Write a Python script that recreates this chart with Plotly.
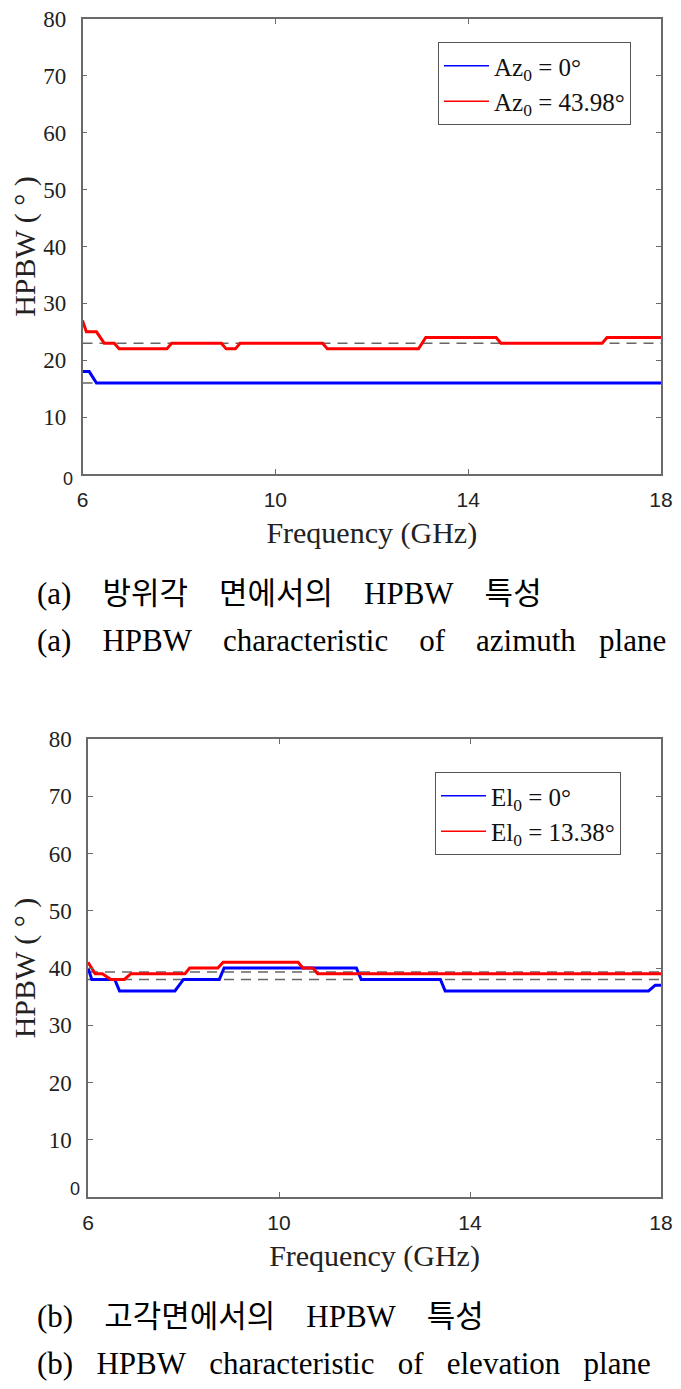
import plotly.graph_objects as go

# (a) azimuth plane
az_freq_0 = [6.0, 6.14, 6.29, 18.0]
az_hpbw_0 = [18, 18, 16, 16]
az_freq_1 = [6.0, 6.08, 6.29, 6.45, 6.66, 6.76, 7.75, 7.85, 8.88, 8.98, 9.17, 9.27,
             10.98, 11.08, 12.97, 13.12, 14.58, 14.68, 16.78, 16.88, 18.0]
az_hpbw_1 = [27, 25, 25, 23, 23, 22, 22, 23, 23, 22, 22, 23,
             23, 22, 22, 24, 24, 23, 23, 24, 24]
az_ref = [23, 16]

# (b) elevation plane
el_freq_0 = [6.0, 6.08, 6.56, 6.66, 7.82, 8.0, 8.75, 8.85, 11.62, 11.72, 13.38, 13.48,
             17.74, 17.88, 18.0]
el_hpbw_0 = [40, 38, 38, 36, 36, 38, 38, 40, 40, 38, 38, 36, 36, 37, 37]
el_freq_1 = [6.0, 6.15, 6.3, 6.48, 6.76, 6.9, 8.03, 8.13, 8.72, 8.83, 10.4, 10.5,
             10.71, 10.81, 18.0]
el_hpbw_1 = [41, 39, 39, 38, 38, 39, 39, 40, 40, 41, 41, 40, 40, 39, 39]
el_ref = [39.3, 38]

x_range = [6, 18]
x_ticks = [6, 10, 14, 18]
y_ticks = [0, 10, 20, 30, 40, 50, 60, 70, 80]

az_names = ["Az<sub>0</sub> = 0°", "Az<sub>0</sub> = 43.98°"]
el_names = ["El<sub>0</sub> = 0°", "El<sub>0</sub> = 13.38°"]

SERIF = "Liberation Serif, Times New Roman, serif"
SANS = "Liberation Sans, Arial, sans-serif"
CAP_FONT = "Liberation Serif, Noto Sans CJK KR, serif"
BLUE = "#0000ff"
RED = "#ff0000"
NB = "\u00a0"

# the page puts the figure 8 px in from the window corner
W, H, OFF = 665, 1373, 8


def px(x, y):
    return (x - OFF) / W, 1 - (y - OFF) / H


fig = go.Figure()


def add_panel(xa, ya, legend, f0, h0, f1, h1, refs, names):
    for v in refs:
        fig.add_trace(go.Scatter(x=x_range, y=[v, v], mode="lines", xaxis=xa, yaxis=ya,
                                 line=dict(color="#666666", width=1.5, dash="10px,7px"),
                                 showlegend=False, hoverinfo="skip"))
    fig.add_trace(go.Scatter(x=f0, y=h0, mode="lines", xaxis=xa, yaxis=ya,
                             line=dict(color=BLUE, width=3), showlegend=False))
    fig.add_trace(go.Scatter(x=f1, y=h1, mode="lines", xaxis=xa, yaxis=ya,
                             line=dict(color=RED, width=3), showlegend=False))
    # thin lines for the legend only
    for name, col in zip(names, [BLUE, RED]):
        fig.add_trace(go.Scatter(x=[None], y=[None], mode="lines", xaxis=xa, yaxis=ya,
                                 name=name, legend=legend,
                                 line=dict(color=col, width=1.3)))


add_panel("x", "y", "legend", az_freq_0, az_hpbw_0, az_freq_1, az_hpbw_1, az_ref, az_names)
add_panel("x2", "y2", "legend2", el_freq_0, el_hpbw_0, el_freq_1, el_hpbw_1, el_ref, el_names)

xaxis_style = dict(range=x_range, tickvals=x_ticks, showgrid=False, zeroline=False,
                   automargin=False, ticklabeloverflow="allow",
                   showline=True, linecolor="#6a6a6a", linewidth=1.5, mirror="allticks",
                   ticks="inside", ticklen=5, tickcolor="#6a6a6a",
                   tickfont=dict(family=SANS, size=21, color="#222"),
                   ticklabelstandoff=6,
                   title=dict(text="Frequency (GHz)", standoff=12,
                              font=dict(family=SERIF, size=30, color="#222")))
yaxis_style = dict(range=[0, 80], tickvals=y_ticks,
                   ticktext=[""] + [str(v) for v in y_ticks[1:]],
                   showgrid=False, zeroline=False, automargin=False,
                   ticklabeloverflow="allow",
                   showline=True, linecolor="#6a6a6a", linewidth=1.5, mirror="allticks",
                   ticks="inside", ticklen=5, tickcolor="#6a6a6a",
                   tickfont=dict(family=SERIF, size=23, color="#222"),
                   ticklabelstandoff=10,
                   title=dict(text="HPBW ( ° )", standoff=14,
                              font=dict(family=SERIF, size=30, color="#222")))

legend_style = dict(xanchor="left", yanchor="top", bgcolor="white",
                    bordercolor="#555", borderwidth=1,
                    font=dict(family=SERIF, size=25, color="#111"), itemwidth=45)

x0a, _ = px(82.5, 0)
x0b, _ = px(88, 0)
x1, _ = px(661, 0)
_, ya_top = px(0, 19)
_, ya_bot = px(0, 474)
_, yb_top = px(0, 739)
_, yb_bot = px(0, 1197)
lga = px(438, 42)
lgb = px(435, 772)

fig.update_layout(
    width=W, height=H,
    margin=dict(l=0, r=0, t=0, b=0, autoexpand=False),
    paper_bgcolor="white", plot_bgcolor="white",
    xaxis=dict(xaxis_style, domain=[x0a, x1], anchor="y"),
    yaxis=dict(yaxis_style, domain=[ya_bot, ya_top], anchor="x"),
    xaxis2=dict(xaxis_style, domain=[x0b, x1], anchor="y2"),
    yaxis2=dict(yaxis_style, domain=[yb_bot, yb_top], anchor="x2"),
    legend=dict(legend_style, x=lga[0], y=lga[1]),
    legend2=dict(legend_style, x=lgb[0], y=lgb[1]),
)

# the zero label of each y axis is drawn in a sans font
for pos in [px(61, 479), px(68, 1201)]:
    fig.add_annotation(x=pos[0], y=pos[1], xref="paper", yref="paper", text="0",
                       showarrow=False, font=dict(family=SANS, size=18, color="#222"))

captions = [
    ("(a)" + NB * 4 + "방위각" + NB * 4 + "면에서의" + NB * 4 + "HPBW" + NB * 4 + "특성", 593),
    ("(a)" + NB * 4 + "HPBW" + NB * 4 + "characteristic" + NB * 4 + "of" + NB * 4
     + "azimuth" + NB * 3 + "plane", 640),
    ("(b)" + NB * 4 + "고각면에서의" + NB * 4 + "HPBW" + NB * 4 + "특성", 1316),
    ("(b)" + NB * 3 + "HPBW" + NB * 3 + "characteristic" + NB * 3 + "of" + NB * 3
     + "elevation" + NB * 3 + "plane", 1363),
]
for text, ypix in captions:
    cx, cy = px(35, ypix)
    fig.add_annotation(x=cx, y=cy, xref="paper", yref="paper",
                       xanchor="left", yanchor="middle", text=text, showarrow=False,
                       font=dict(family=CAP_FONT, size=31, color="black"))

fig.write_html("out.html")
